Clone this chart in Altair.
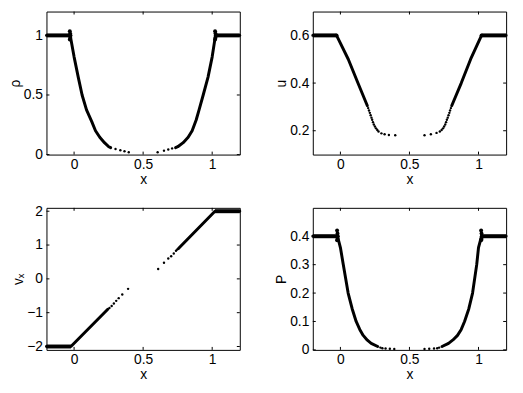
import altair as alt
import pandas as pd

FONT = "Liberation Sans"

x_domain = [-0.2, 1.2]
x_ticks = [0, 0.5, 1]

# ---------------- rho ----------------
rho_left_x = [-0.2, -0.028, 0.0, 0.03, 0.058, 0.09, 0.128, 0.155, 0.186, 0.22, 0.251, 0.265]
rho_left_y = [1.0, 1.0, 0.82, 0.65, 0.50, 0.375, 0.276, 0.20, 0.145, 0.10, 0.066, 0.058]
rho_right_x = [0.735, 0.751, 0.79, 0.826, 0.855, 0.884, 0.905, 0.935, 0.97, 1.0, 1.024, 1.2]
rho_right_y = [0.058, 0.066, 0.10, 0.145, 0.20, 0.29, 0.375, 0.50, 0.65, 0.82, 1.0, 1.0]
rho_dots_x = [0.30, 0.335, 0.365, 0.396, 0.605, 0.651, 0.682, 0.71]
rho_dots_y = [0.047, 0.037, 0.028, 0.02, 0.019, 0.033, 0.043, 0.052]
rho_blob_x = [-0.031, -0.028, -0.026, -0.028, -0.031, 1.021, 1.024, 1.026, 1.024, 1.021]
rho_blob_y = [1.035, 1.015, 1.0, 0.98, 0.965, 1.035, 1.015, 1.0, 0.98, 0.965]
rho_domain = [0, 1.2]
rho_ticks = [0, 0.5, 1]

# ---------------- u ----------------
u_left_x = [-0.2, -0.028, 0.057, 0.127, 0.195]
u_left_y = [0.6, 0.6, 0.50, 0.40, 0.305]
u_right_x = [0.806, 0.875, 0.943, 1.022, 1.2]
u_right_y = [0.305, 0.40, 0.50, 0.6, 0.6]
u_dots_x = [0.201, 0.207, 0.213, 0.219, 0.225, 0.230, 0.236, 0.242, 0.250, 0.258, 0.267, 0.276,
            0.297, 0.320, 0.351, 0.397,
            0.609, 0.655, 0.696, 0.720, 0.733, 0.743, 0.751, 0.759, 0.765, 0.771, 0.777,
            0.783, 0.789, 0.794, 0.800]
u_dots_y = [0.295, 0.285, 0.275, 0.265, 0.255, 0.246, 0.236, 0.226, 0.218, 0.210, 0.203, 0.197,
            0.189, 0.185, 0.182, 0.181,
            0.181, 0.185, 0.191, 0.197, 0.203, 0.210, 0.218, 0.226, 0.236, 0.246, 0.255,
            0.265, 0.275, 0.285, 0.295]
u_blob_x = [-0.028, 1.022]
u_blob_y = [0.6, 0.6]
u_domain = [0.1, 0.7]
u_ticks = [0.2, 0.4, 0.6]

# ---------------- v_x ----------------
vx_left_x = [-0.2, -0.023, 0.244]
vx_left_y = [-2.0, -2.0, -0.90]
vx_right_x = [0.756, 1.02, 1.2]
vx_right_y = [0.90, 2.0, 2.0]
vx_dots_x = [0.256, 0.272, 0.288, 0.305, 0.323, 0.349, 0.391,
             0.609, 0.651, 0.682, 0.703, 0.722, 0.738, 0.747]
vx_dots_y = [-0.86, -0.80, -0.73, -0.65, -0.57, -0.46, -0.295,
             0.29, 0.477, 0.60, 0.67, 0.75, 0.83, 0.87]
vx_domain = [-2.1, 2.1]
vx_ticks = [-2, -1, 0, 1, 2]

# ---------------- P ----------------
p_left_x = [-0.2, -0.021, 0.0, 0.021, 0.056, 0.085, 0.114, 0.14, 0.165, 0.195, 0.223, 0.27]
p_left_y = [0.4, 0.4, 0.36, 0.30, 0.20, 0.145, 0.10, 0.072, 0.051, 0.034, 0.023, 0.012]
p_right_x = [0.736, 0.783, 0.815, 0.848, 0.875, 0.899, 0.93, 0.957, 0.987, 1.0, 1.022, 1.2]
p_right_y = [0.012, 0.023, 0.035, 0.051, 0.072, 0.10, 0.145, 0.20, 0.30, 0.36, 0.4, 0.4]
p_dots_x = [0.29, 0.304, 0.327, 0.358, 0.39, 0.609, 0.643, 0.678, 0.701, 0.715]
p_dots_y = [0.008, 0.006, 0.005, 0.004, 0.003, 0.003, 0.004, 0.005, 0.006, 0.008]
p_blob_x = [-0.024, -0.021, -0.019, -0.021, -0.024, 1.019, 1.022, 1.024, 1.022, 1.019]
p_blob_y = [0.42, 0.41, 0.40, 0.39, 0.386, 0.42, 0.41, 0.40, 0.39, 0.386]
p_domain = [0, 0.5]
p_ticks = [0, 0.1, 0.2, 0.3, 0.4]


def seg_df(segs):
    rows = []
    for k, (xs, ys) in enumerate(segs):
        for i, (a, b) in enumerate(zip(xs, ys)):
            rows.append({"x": a, "y": b, "seg": k, "i": i})
    return pd.DataFrame(rows)


def panel(left, right, dots, blobs, ydom, yticks, ytitle, w, h):
    xs = alt.Scale(domain=x_domain, nice=False, zero=False)
    ys = alt.Scale(domain=ydom, nice=False, zero=False)
    xax = alt.Axis(values=x_ticks, format="~g", title="x")
    yax = alt.Axis(values=yticks, format="~g", title=ytitle)
    X = alt.X("x:Q", scale=xs, axis=xax)
    Y = alt.Y("y:Q", scale=ys, axis=yax)

    curve = alt.Chart(seg_df([left, right])).mark_line(
        color="black", strokeWidth=3, strokeCap="round", strokeJoin="round"
    ).encode(x=X, y=Y, detail="seg:N", order="i:Q")
    flat = alt.Chart(seg_df([(left[0][:2], left[1][:2]), (right[0][-2:], right[1][-2:])])).mark_line(
        color="black", strokeWidth=4
    ).encode(x=X, y=Y, detail="seg:N", order="i:Q")
    dot = alt.Chart(pd.DataFrame({"x": dots[0], "y": dots[1]})).mark_circle(
        color="black", size=6, opacity=1
    ).encode(x=X, y=Y)
    layers = [flat, curve, dot]
    if blobs is not None:
        layers.append(alt.Chart(pd.DataFrame({"x": blobs[0], "y": blobs[1]})).mark_circle(
            color="black", size=16, opacity=1
        ).encode(x=X, y=Y))

    xt = pd.DataFrame({"x": x_ticks})
    yt = pd.DataFrame({"y": yticks})
    rule = dict(color="black", strokeWidth=1)
    layers += [
        alt.Chart(xt).mark_rule(**rule).encode(x=X, y=alt.value(h), y2=alt.value(h - 3)),
        alt.Chart(xt).mark_rule(**rule).encode(x=X, y=alt.value(0), y2=alt.value(3)),
        alt.Chart(yt).mark_rule(**rule).encode(y=Y, x=alt.value(0), x2=alt.value(3)),
        alt.Chart(yt).mark_rule(**rule).encode(y=Y, x=alt.value(w), x2=alt.value(w - 3)),
    ]
    return alt.layer(*layers).properties(width=w, height=h)


W1, W2, H1, H2 = 196, 196, 145, 144

p1 = panel((rho_left_x, rho_left_y), (rho_right_x, rho_right_y), (rho_dots_x, rho_dots_y),
           (rho_blob_x, rho_blob_y), rho_domain, rho_ticks, "ρ", W1, H1)
p2 = panel((u_left_x, u_left_y), (u_right_x, u_right_y), (u_dots_x, u_dots_y),
           (u_blob_x, u_blob_y), u_domain, u_ticks, "u", W2, H1)
p3 = panel((vx_left_x, vx_left_y), (vx_right_x, vx_right_y), (vx_dots_x, vx_dots_y),
           None, vx_domain, vx_ticks, "vₓ", W1, H2)
p4 = panel((p_left_x, p_left_y), (p_right_x, p_right_y), (p_dots_x, p_dots_y),
           (p_blob_x, p_blob_y), p_domain, p_ticks, "P", W2, H2)

chart = alt.concat(p1, p2, p3, p4, columns=2, spacing={"row": 54, "column": 74}, bounds="flush").properties(
    padding=0
).configure_view(
    stroke="black", strokeWidth=1
).configure_axis(
    domain=False, ticks=False, tickSize=0, grid=False,
    labelFont=FONT, labelFontSize=14, labelColor="black", labelFlush=False,
    titleFont=FONT, titleFontSize=14, titleFontWeight="normal", titleColor="black",
).configure_axisX(labelPadding=3, titlePadding=1).configure_axisY(labelPadding=4, titlePadding=1)

chart.save("out.html", embed_options={"renderer": "svg", "actions": False})
